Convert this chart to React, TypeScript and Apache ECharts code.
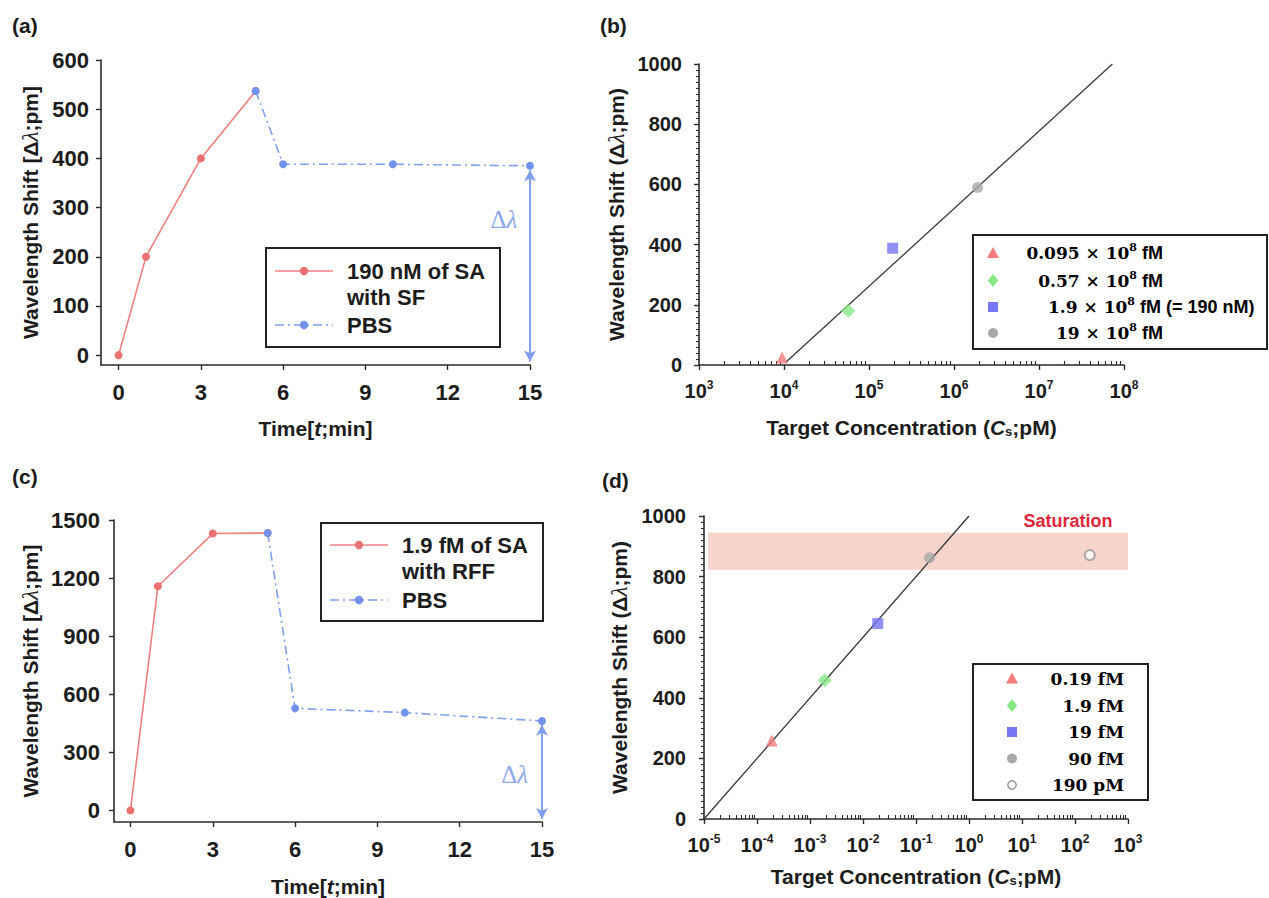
import React, { useEffect, useRef } from 'react';
import * as echarts from 'echarts';

// ---------- Panel (a): 190 nM SA with SF ----------
const timeA_SA = [0, 1, 3, 5];
const shiftA_SA = [0, 200, 400, 537];
const timeA_PBS = [5, 6, 10, 15];
const shiftA_PBS = [537, 388, 388, 385];
const arrowA = [376, -13];
const deltaLabelA = [14.05, 275];

// ---------- Panel (c): 1.9 fM SA with RFF ----------
const timeC_SA = [0, 1, 3, 5];
const shiftC_SA = [0, 1158, 1430, 1433];
const timeC_PBS = [5, 6, 10, 15];
const shiftC_PBS = [1433, 527, 505, 462];
const arrowC = [442, -45];
const deltaLabelC = [14.0, 186];

const timeTicks = [0, 3, 6, 9, 12, 15];
const shiftTicksA = [0, 100, 200, 300, 400, 500, 600];
const shiftTicksC = [0, 300, 600, 900, 1200, 1500];

// ---------- Panel (b): SF calibration ----------
const concB = [9.5e3, 5.7e4, 1.9e5, 1.9e6]; // pM
const shiftB = [25, 180, 388, 590];
const namesB = ['0.095 × 10⁸ fM', '0.57 × 10⁸ fM', '1.9 × 10⁸ fM (= 190 nM)', '19 × 10⁸ fM'];
const fitB_conc = [1.05e4, 7.3e7];
const fitB_shift = [9, 1000];

// ---------- Panel (d): RFF calibration ----------
const concD = [1.9e-4, 1.9e-3, 1.9e-2, 0.18, 190]; // pM
const shiftD = [259, 458, 645, 862, 871];
const namesD = ['0.19 fM', '1.9 fM', '19 fM', '90 fM', '190 pM'];
const fitD_conc = [1e-5, 1];
const fitD_shift = [0, 1000];
const saturationConc = [1.2e-5, 1e3];
const saturationShift = [823, 945];
const saturationLabel = [74, 985];

const markerSymbols = ['triangle', 'diamond', 'rect', 'circle', 'emptyCircle'];
const markerColors = ['#f37b7b', '#86e986', '#7676f2', '#a9a9a9', '#9a9a9a'];
const markerSizes = [12, 14, 11, 11, 10];

const RED = '#f08080';
const RED_DOT = '#ec7272';
const BLUE = '#7f9ff0';
const BLUE_DOT = '#7193ee';
const AXIS = '#2b2b2b';
const TXT = '#1c1c1c';
const sans = '"Liberation Sans", Arial, sans-serif';
const serif = '"Liberation Serif", "Times New Roman", serif';
const dserif = '"DejaVu Serif", serif';

const lg = (v: number) => Math.log10(v);
const plain = (v: number) => String(v);

const axisLine = { show: true, onZero: false, lineStyle: { color: AXIS, width: 1.6 } };
const tickBase = { show: true, length: 5, lineStyle: { color: AXIS, width: 1.4 } };
const labelBase = { fontFamily: sans, fontWeight: 'bold', fontSize: 22, color: TXT, formatter: plain };

const titleRich = {
  t: { fontFamily: sans, fontWeight: 'bold', fontSize: 21, color: TXT },
  i: { fontFamily: serif, fontStyle: 'italic', fontWeight: 'normal', fontSize: 23, color: TXT },
  it: { fontFamily: sans, fontStyle: 'italic', fontWeight: 'bold', fontSize: 21, color: TXT },
  sub: { fontFamily: sans, fontWeight: 'bold', fontSize: 13, color: TXT, verticalAlign: 'bottom' },
};

const logLabel = {
  ...labelBase,
  margin: 14,
  formatter: (v: number) => `{b|10}{s|${v}}`,
  rich: {
    b: { fontFamily: sans, fontWeight: 'bold', fontSize: 20, color: TXT, lineHeight: 24 },
    s: { fontFamily: sans, fontWeight: 'bold', fontSize: 12, color: TXT, verticalAlign: 'top', lineHeight: 12 },
  },
};

// minor tick positions (axis decoration, not data)
const minorLog = (from: number, to: number) => {
  const out: number[] = [];
  for (let n = from; n < to; n++) for (let k = 2; k <= 9; k++) out.push(n + Math.log10(k));
  return out;
};
const minorLinear = (max: number, step: number, major: number) => {
  const out: number[] = [];
  for (let v = step; v < max; v += step) if (v % major !== 0) out.push(v);
  return out;
};

const pairs = (xs: number[], ys: number[], f = (x: number) => x) => xs.map((x, i) => [f(x), ys[i]]);

const deltaLabel = (coord: number[]) => ({
  silent: true,
  symbol: 'circle',
  symbolSize: 1,
  itemStyle: { color: 'rgba(0,0,0,0)' },
  label: {
    show: true,
    position: 'inside',
    formatter: '{d|Δ}{l|λ}',
    rich: {
      d: { fontFamily: serif, fontSize: 25, color: '#8ea8ee' },
      l: { fontFamily: serif, fontStyle: 'italic', fontSize: 25, color: '#8ea8ee' },
    },
  },
  data: [{ coord }],
});

const arrowLine = (x: number, ys: number[]) => ({
  silent: true,
  symbol: ['arrow', 'arrow'],
  symbolSize: [9, 11],
  lineStyle: { color: BLUE, width: 2, type: 'solid' },
  label: { show: false },
  emphasis: { disabled: true },
  data: [[{ coord: [x, ys[0]] }, { coord: [x, ys[1]] }]],
});

function legendTimeGraphic(box: number[], rows: number[], lineX: number[], textX: number, l1: string, l2: string) {
  const [bx, by, bw, bh] = box;
  const font = { fontFamily: sans, fontWeight: 'bold', fontSize: 22, fill: TXT, verticalAlign: 'middle', align: 'left' };
  const dotX = (lineX[0] + lineX[1]) / 2;
  return [
    { type: 'rect', shape: { x: bx, y: by, width: bw, height: bh }, style: { fill: '#fff', stroke: '#222', lineWidth: 2 }, z: 50 },
    { type: 'line', shape: { x1: lineX[0], y1: rows[0], x2: lineX[1], y2: rows[0] }, style: { stroke: RED, lineWidth: 1.6 }, z: 51 },
    { type: 'circle', shape: { cx: dotX, cy: rows[0], r: 4.2 }, style: { fill: RED_DOT }, z: 52 },
    { type: 'text', x: textX, y: rows[0], style: { text: l1, ...font }, z: 52 },
    { type: 'text', x: textX, y: rows[1], style: { text: l2, ...font }, z: 52 },
    { type: 'line', shape: { x1: lineX[0], y1: rows[2], x2: lineX[1], y2: rows[2] }, style: { stroke: BLUE, lineWidth: 1.6, lineDash: [9, 4, 2, 4] }, z: 51 },
    { type: 'circle', shape: { cx: dotX, cy: rows[2], r: 4.2 }, style: { fill: BLUE_DOT }, z: 52 },
    { type: 'text', x: textX, y: rows[2], style: { text: 'PBS', ...font }, z: 52 },
  ];
}

function markerGraphic(kind: number, cx: number, cy: number, s: number) {
  const color = markerColors[kind];
  const h = s / 2;
  if (kind === 0)
    return { type: 'polygon', shape: { points: [[cx, cy - h], [cx + h, cy + h * 0.85], [cx - h, cy + h * 0.85]] }, style: { fill: color }, z: 52 };
  if (kind === 1)
    return { type: 'polygon', shape: { points: [[cx, cy - h], [cx + h * 0.8, cy], [cx, cy + h], [cx - h * 0.8, cy]] }, style: { fill: color }, z: 52 };
  if (kind === 2) return { type: 'rect', shape: { x: cx - h, y: cy - h, width: s, height: s }, style: { fill: color }, z: 52 };
  if (kind === 3) return { type: 'circle', shape: { cx, cy, r: h }, style: { fill: color }, z: 52 };
  return { type: 'circle', shape: { cx, cy, r: h - 0.8 }, style: { fill: '#fff', stroke: color, lineWidth: 1.5 }, z: 52 };
}

// rich text for a legend entry: serif number part, superscript 8, unit part
const richLegend = (name: string, sansUnits: boolean) => {
  const u = sansUnits ? 'u' : 'n';
  const m = name.match(/^(.*× 10)⁸ (.*)$/);
  if (m) return `{n|${m[1]}}{s|8}{${u}| ${m[2]}}`;
  const k = name.indexOf(' ');
  return `{n|${name.slice(0, k)}}{${u}|${name.slice(k)}}`;
};
const legendRich = {
  n: { fontFamily: dserif, fontWeight: 'bold', fontSize: 17, color: TXT, lineHeight: 22 },
  u: { fontFamily: sans, fontWeight: 'bold', fontSize: 18, color: TXT, lineHeight: 22 },
  s: { fontFamily: dserif, fontWeight: 'bold', fontSize: 11, color: TXT, verticalAlign: 'top', lineHeight: 11 },
};

function legendConcGraphic(box: number[], rows: number[], symX: number, textRight: number, names: string[], leftAlignIdx: number, leftX: number, sansUnits: boolean) {
  const [bx, by, bw, bh] = box;
  const els: any[] = [
    { type: 'rect', shape: { x: bx, y: by, width: bw, height: bh }, style: { fill: '#fff', stroke: '#222', lineWidth: 2 }, z: 50 },
  ];
  names.forEach((nm, i) => {
    els.push(markerGraphic(i, symX, rows[i], i === 1 ? 13 : i === 0 ? 12 : 10));
    const leftAl = i === leftAlignIdx;
    els.push({
      type: 'text',
      x: leftAl ? leftX : textRight,
      y: rows[i],
      style: { text: richLegend(nm, sansUnits), rich: legendRich, align: leftAl ? 'left' : 'right', verticalAlign: 'middle' },
      z: 52,
    });
  });
  return els;
}

export default function App() {
  const ref = useRef<HTMLDivElement>(null);
  useEffect(() => {
    if (!ref.current) return;
    const chart = echarts.init(ref.current, null, { renderer: 'svg' });

    const yTitle = (bracket: boolean, gap: number) => ({
      name: bracket ? '{t|Wavelength Shift [Δ}{i|λ}{t|;pm]}' : '{t|Wavelength Shift (Δ}{i|λ}{t|;pm)}',
      nameLocation: 'middle',
      nameRotate: 90,
      nameGap: gap,
      nameTextStyle: { rich: titleRich },
    });
    const timeTitle = (gap: number) => ({
      name: '{t|Time[}{it|t}{t|;min]}',
      nameLocation: 'middle',
      nameGap: gap,
      nameTextStyle: { rich: titleRich },
    });
    const concTitle = (gap: number) => ({
      name: '{t|Target Concentration (}{it|C}{sub|s}{t|;pM)}',
      nameLocation: 'middle',
      nameGap: gap,
      nameTextStyle: { rich: titleRich },
    });
    const minorXAxis = (gridIndex: number, min: number, max: number) => ({
      gridIndex, type: 'value', min, max, position: 'bottom',
      axisLine: { show: false, onZero: false },
      axisTick: { show: true, inside: true, length: 4, lineStyle: { color: AXIS, width: 1.1 }, customValues: minorLog(min, max) },
      axisLabel: { show: false }, splitLine: { show: false },
    });
    const minorYAxis = (gridIndex: number) => ({
      gridIndex, type: 'value', min: 0, max: 1000, position: 'left',
      axisLine: { show: false, onZero: false },
      axisTick: { show: true, length: 3, lineStyle: { color: AXIS, width: 1.1 }, customValues: minorLinear(1000, 20, 200) },
      axisLabel: { show: false }, splitLine: { show: false },
    });

    const option: any = {
      animation: false,
      backgroundColor: '#ffffff',
      grid: [
        { left: 101, top: 60, width: 429, height: 305 },
        { left: 699, top: 64, width: 425, height: 301 },
        { left: 114, top: 520, width: 428, height: 305 },
        { left: 704, top: 516, width: 424, height: 303 },
      ],
      xAxis: [
        {
          gridIndex: 0, type: 'value', min: -0.64, max: 15, position: 'bottom',
          axisLine, axisTick: { ...tickBase, customValues: timeTicks },
          axisLabel: { ...labelBase, margin: 16, customValues: timeTicks },
          splitLine: { show: false }, ...timeTitle(53),
        },
        {
          gridIndex: 1, type: 'value', min: 3, max: 8, interval: 1, position: 'bottom',
          axisLine, axisTick: { ...tickBase }, axisLabel: logLabel,
          splitLine: { show: false }, ...concTitle(52),
        },
        {
          gridIndex: 2, type: 'value', min: -0.6, max: 15, position: 'bottom',
          axisLine, axisTick: { ...tickBase, customValues: timeTicks },
          axisLabel: { ...labelBase, margin: 16, customValues: timeTicks },
          splitLine: { show: false }, ...timeTitle(54),
        },
        {
          gridIndex: 3, type: 'value', min: -5, max: 3, interval: 1, position: 'bottom',
          axisLine, axisTick: { ...tickBase }, axisLabel: logLabel,
          splitLine: { show: false }, ...concTitle(47),
        },
        minorXAxis(1, 3, 8),
        minorXAxis(3, -5, 3),
      ],
      yAxis: [
        {
          gridIndex: 0, type: 'value', min: -20, max: 600, position: 'left',
          axisLine, axisTick: { ...tickBase, customValues: shiftTicksA },
          axisLabel: { ...labelBase, margin: 12, customValues: shiftTicksA },
          splitLine: { show: false }, ...yTitle(true, 59),
        },
        {
          gridIndex: 1, type: 'value', min: 0, max: 1000, interval: 200, position: 'left',
          axisLine, axisTick: { ...tickBase },
          axisLabel: { ...labelBase, fontSize: 20, margin: 17 },
          splitLine: { show: false }, ...yTitle(false, 71),
        },
        {
          gridIndex: 2, type: 'value', min: -60, max: 1500, position: 'left',
          axisLine, axisTick: { ...tickBase, customValues: shiftTicksC },
          axisLabel: { ...labelBase, margin: 14, customValues: shiftTicksC },
          splitLine: { show: false }, ...yTitle(true, 72),
        },
        {
          gridIndex: 3, type: 'value', min: 0, max: 1000, interval: 200, position: 'left',
          axisLine, axisTick: { ...tickBase },
          axisLabel: { ...labelBase, fontSize: 20, margin: 18 },
          splitLine: { show: false }, ...yTitle(false, 73),
        },
        minorYAxis(1),
        minorYAxis(3),
      ],
      series: [
        // (a)
        {
          name: '190 nM of SA with SF', type: 'line', xAxisIndex: 0, yAxisIndex: 0,
          data: pairs(timeA_SA, shiftA_SA), symbol: 'circle', symbolSize: 8,
          lineStyle: { color: RED, width: 1.6 }, itemStyle: { color: RED_DOT }, z: 3,
        },
        {
          name: 'PBS', type: 'line', xAxisIndex: 0, yAxisIndex: 0,
          data: pairs(timeA_PBS, shiftA_PBS), symbol: 'circle', symbolSize: 8,
          lineStyle: { color: BLUE, width: 1.6, type: [9, 4, 2, 4] }, itemStyle: { color: BLUE_DOT }, z: 4,
          markLine: arrowLine(15, arrowA),
          markPoint: deltaLabel(deltaLabelA),
        },
        // (c)
        {
          name: '1.9 fM of SA with RFF', type: 'line', xAxisIndex: 2, yAxisIndex: 2,
          data: pairs(timeC_SA, shiftC_SA), symbol: 'circle', symbolSize: 8,
          lineStyle: { color: RED, width: 1.6 }, itemStyle: { color: RED_DOT }, z: 3,
        },
        {
          name: 'PBS (c)', type: 'line', xAxisIndex: 2, yAxisIndex: 2,
          data: pairs(timeC_PBS, shiftC_PBS), symbol: 'circle', symbolSize: 8,
          lineStyle: { color: BLUE, width: 1.6, type: [9, 4, 2, 4] }, itemStyle: { color: BLUE_DOT }, z: 4,
          markLine: arrowLine(15, arrowC),
          markPoint: deltaLabel(deltaLabelC),
        },
        // (b) fit
        {
          name: 'fit (b)', type: 'line', xAxisIndex: 1, yAxisIndex: 1,
          data: pairs(fitB_conc, fitB_shift, lg), symbol: 'none',
          lineStyle: { color: '#3a3a3a', width: 1.3 }, z: 2,
        },
        ...concB.map((c, i) => ({
          name: namesB[i], type: 'scatter', xAxisIndex: 1, yAxisIndex: 1,
          data: [[lg(c), shiftB[i]]], symbol: markerSymbols[i], symbolSize: markerSizes[i],
          itemStyle: { color: markerColors[i] }, z: 3,
        })),
        // (d) fit + saturation band
        {
          name: 'fit (d)', type: 'line', xAxisIndex: 3, yAxisIndex: 3,
          data: pairs(fitD_conc, fitD_shift, lg), symbol: 'none',
          lineStyle: { color: '#3a3a3a', width: 1.3 }, z: 2,
        },
        ...concD.map((c, i) => ({
          name: namesD[i], type: 'scatter', xAxisIndex: 3, yAxisIndex: 3,
          data: [[lg(c), shiftD[i]]], symbol: markerSymbols[i], symbolSize: markerSizes[i],
          itemStyle: i === 4 ? { color: markerColors[i], borderWidth: 1.5 } : { color: markerColors[i] }, z: 3,
          ...(i === 4
            ? {
                markArea: {
                  silent: true,
                  itemStyle: { color: 'rgba(232,135,112,0.36)' },
                  label: { show: false },
                  data: [[{ coord: [lg(saturationConc[0]), saturationShift[0]] }, { coord: [lg(saturationConc[1]), saturationShift[1]] }]],
                },
                markPoint: {
                  silent: true, symbol: 'circle', symbolSize: 1, itemStyle: { color: 'rgba(0,0,0,0)' },
                  label: { show: true, position: 'inside', formatter: 'Saturation', fontFamily: sans, fontWeight: 'bold', fontSize: 18, color: '#e2253a' },
                  data: [{ coord: [lg(saturationLabel[0]), saturationLabel[1]] }],
                },
              }
            : {}),
        })),
      ],
      graphic: [
        { type: 'text', x: 12, y: 25, style: { text: '(a)', fontFamily: sans, fontWeight: 'bold', fontSize: 21, fill: TXT, verticalAlign: 'middle' } },
        { type: 'text', x: 600, y: 25, style: { text: '(b)', fontFamily: sans, fontWeight: 'bold', fontSize: 21, fill: TXT, verticalAlign: 'middle' } },
        { type: 'text', x: 12, y: 476, style: { text: '(c)', fontFamily: sans, fontWeight: 'bold', fontSize: 21, fill: TXT, verticalAlign: 'middle' } },
        { type: 'text', x: 602, y: 480, style: { text: '(d)', fontFamily: sans, fontWeight: 'bold', fontSize: 21, fill: TXT, verticalAlign: 'middle' } },
        ...legendTimeGraphic([266, 248, 234, 99], [271, 297, 325], [275, 333], 347, '190 nM of SA', 'with SF'),
        ...legendTimeGraphic([321, 523, 222, 98], [545, 571.5, 600], [330, 388], 402, '1.9 fM of SA', 'with RFF'),
        ...legendConcGraphic([973, 235, 294, 114], [253, 280.5, 307, 333], 993, 1163, namesB, 2, 1048, true),
        ...legendConcGraphic([973, 664, 175, 136], [678.5, 705.5, 732, 758.5, 785], 1012, 1124, namesD, -1, 0, false),
      ],
    };
    chart.setOption(option);
    return () => chart.dispose();
  }, []);
  return <div ref={ref} style={{ position: 'absolute', left: 0, top: 0, width: 1269, height: 898, background: '#fff' }} />;
}
